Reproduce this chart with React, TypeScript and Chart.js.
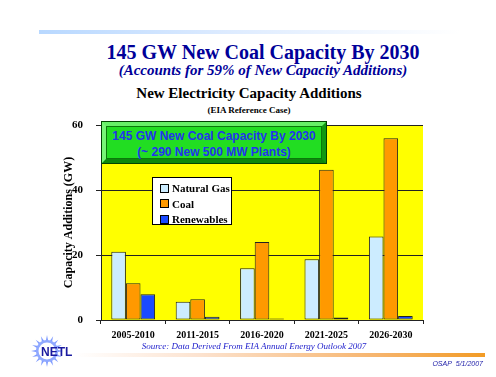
import React, { useEffect, useRef } from "react";
import { Chart, registerables } from "chart.js";
Chart.register(...registerables);

const categories = ["2005-2010", "2011-2015", "2016-2020", "2021-2025", "2026-2030"];
const naturalGas = [21.0, 5.6, 15.9, 18.7, 25.7];
const coal = [11.3, 6.4, 24.0, 46.2, 55.9];
const renewables = [7.9, 1.0, 0.5, 0.8, 1.2];
const seriesLabels = ["Natural Gas", "Coal", "Renewables"];
const seriesColors = ["#CCECFF", "#FF9900", "#1A4AFF"];
const yTicks = [0, 20, 40, 60];

const SERIF = "'Liberation Serif', 'Times New Roman', serif";
const SANS = "'Liberation Sans', Arial, sans-serif";

const plotBg = {
  id: "plotBg",
  beforeDraw(chart: any) {
    const { ctx, chartArea } = chart;
    ctx.save();
    ctx.fillStyle = "#FFFF00";
    ctx.fillRect(chartArea.left, chartArea.top, chartArea.right - chartArea.left, chartArea.bottom - chartArea.top);
    ctx.restore();
  },
};

export default function App() {
  const ref = useRef<HTMLCanvasElement>(null);
  useEffect(() => {
    if (!ref.current) return;
    const series = [naturalGas, coal, renewables];
    const chart = new Chart(ref.current, {
      type: "bar",
      data: {
        labels: categories,
        datasets: series.map((d, i) => ({
          label: seriesLabels[i],
          data: d,
          backgroundColor: seriesColors[i],
          borderColor: "#222",
          borderWidth: 1,
          borderSkipped: false,
          categoryPercentage: 0.68,
          barPercentage: 1.0,
        })),
      },
      options: {
        responsive: false,
        animation: false,
        layout: { padding: { left: 55, right: 73, top: 125, bottom: 27 } },
        plugins: { legend: { display: false }, title: { display: false }, tooltip: { enabled: false } },
        scales: {
          x: {
            afterFit: (s: any) => { s.height = 30; },
            grid: { display: true, drawOnChartArea: false, offset: true, tickLength: 4, color: "#222" },
            border: { color: "#222" },
            ticks: { color: "#000", font: { family: SERIF, size: 10, weight: "bold" }, padding: 5 },
          },
          y: {
            min: 0,
            max: 60,
            afterFit: (s: any) => { s.width = 46; },
            afterBuildTicks: (s: any) => { s.ticks = yTicks.map((v) => ({ value: v })); },
            grid: { color: "#222", tickLength: 5 },
            border: { color: "#222" },
            ticks: { color: "#000", font: { family: SERIF, size: 11, weight: "bold" }, padding: 13 },
            title: {
              display: true,
              text: "Capacity Additions (GW)",
              color: "#000",
              font: { family: SERIF, size: 12, weight: "bold" },
              padding: { top: 7, bottom: 0 },
            },
          },
        },
      } as any,
      plugins: [plotBg],
    });
    return () => chart.destroy();
  }, []);

  const abs = (o: React.CSSProperties): React.CSSProperties => ({ position: "absolute", ...o });
  const center = (top: number, size: number, extra: React.CSSProperties = {}): React.CSSProperties =>
    abs({ left: 0, width: 526, top, textAlign: "center", fontSize: size, lineHeight: 1, whiteSpace: "nowrap", ...extra });

  return (
    <div style={{ position: "absolute", left: 0, top: 0, width: 496, height: 377, overflow: "hidden", background: "#fff" }}>
      <div style={abs({ left: 39, top: 30, width: 421, height: 4, background: "linear-gradient(to right, #B8D8FF, #DDEBFF 45%, #FFFFFF)" })} />
      <div style={center(42, 20, { fontFamily: SERIF, fontWeight: "bold", color: "#000099" })}>145 GW New Coal Capacity By 2030</div>
      <div style={center(63, 15, { fontFamily: SERIF, fontWeight: "bold", fontStyle: "italic", color: "#000099" })}>(Accounts for 59% of New Capacity Additions)</div>
      <div style={{ ...center(86, 15, { fontFamily: SERIF, fontWeight: "bold", color: "#000" }), width: 498 }}>New Electricity Capacity Additions</div>
      <div style={{ ...center(106, 9, { fontFamily: SERIF, fontWeight: "bold", color: "#000" }), width: 498 }}>(EIA Reference Case)</div>
      <canvas ref={ref} width={496} height={377} style={abs({ left: 0, top: 0 })} />
      <div style={abs({ left: 101, top: 121, width: 226, height: 43, boxSizing: "border-box", border: "1px solid #004400", background: "#006600" })}>
        <div style={{ position: "absolute", inset: 0, boxSizing: "border-box", borderStyle: "solid", borderWidth: 4, borderColor: "#66F066 #119911 #0C880C #77F577", background: "#22DD22" }}>
          <div style={{ position: "absolute", inset: 0, border: "1px solid #0A7A0A" }} />
        </div>
        <div style={{ position: "absolute", left: 0, right: 0, top: 6, textAlign: "center", fontFamily: SANS, fontWeight: "bold", fontSize: 12, lineHeight: "16px", color: "#2233EE" }}>
          145 GW New Coal Capacity By 2030<br />(~ 290 New 500 MW Plants)
        </div>
      </div>
      <div style={abs({ left: 152, top: 177, width: 80, height: 48, boxSizing: "border-box", border: "1px solid #000", background: "#fff" })}>
        {seriesLabels.map((l, i) => (
          <div key={l} style={{ position: "absolute", left: 7, top: 3 + i * 15.7, height: 14, display: "flex", alignItems: "center", whiteSpace: "nowrap" }}>
            <span style={{ display: "inline-block", width: 7, height: 7, border: "1px solid #000", background: seriesColors[i], marginRight: 3 }} />
            <span style={{ fontFamily: SERIF, fontWeight: "bold", fontSize: 11, color: "#000" }}>{l}</span>
          </div>
        ))}
      </div>
      <div style={abs({ left: 0, width: 508, top: 342, textAlign: "center", fontFamily: SERIF, fontStyle: "italic", fontSize: 9, lineHeight: 1, color: "#2222CC", whiteSpace: "nowrap" })}>
        Source: Data Derived From EIA Annual Energy Outlook 2007
      </div>
      <div style={abs({ left: 75, top: 353, width: 410, height: 4, background: "linear-gradient(to right, #FFFFFF, #FCE3D0 30%, #F6B36A 75%, #F29B25)" })} />
      <div style={abs({ right: 13, top: 360, fontFamily: SANS, fontStyle: "italic", fontSize: 7, lineHeight: 1, color: "#2222AA", whiteSpace: "nowrap" })}>OSAP&nbsp; 5/1/2007</div>
      <svg width={56} height={40} style={abs({ left: 28, top: 331 })}>
        {Array.from({ length: 16 }).map((_, i) => {
          const a = (i / 16) * Math.PI * 2;
          const a1 = a - 0.12, a2 = a + 0.12;
          const cx = 19, cy = 20;
          return (
            <polygon key={i} fill="#7F9BFF" points={`${cx + 10 * Math.cos(a1)},${cy + 10 * Math.sin(a1)} ${cx + 16 * Math.cos(a)},${cy + 16 * Math.sin(a)} ${cx + 10 * Math.cos(a2)},${cy + 10 * Math.sin(a2)}`} />
          );
        })}
        <circle cx={19} cy={20} r={11} fill="#8FA8FF" />
        <circle cx={19} cy={20} r={8.5} fill="#FFFFFF" />
        <text x={13} y={25} fontFamily={SANS} fontWeight="bold" fontSize={12} fill="#1A1AA0">NETL</text>
      </svg>
    </div>
  );
}
